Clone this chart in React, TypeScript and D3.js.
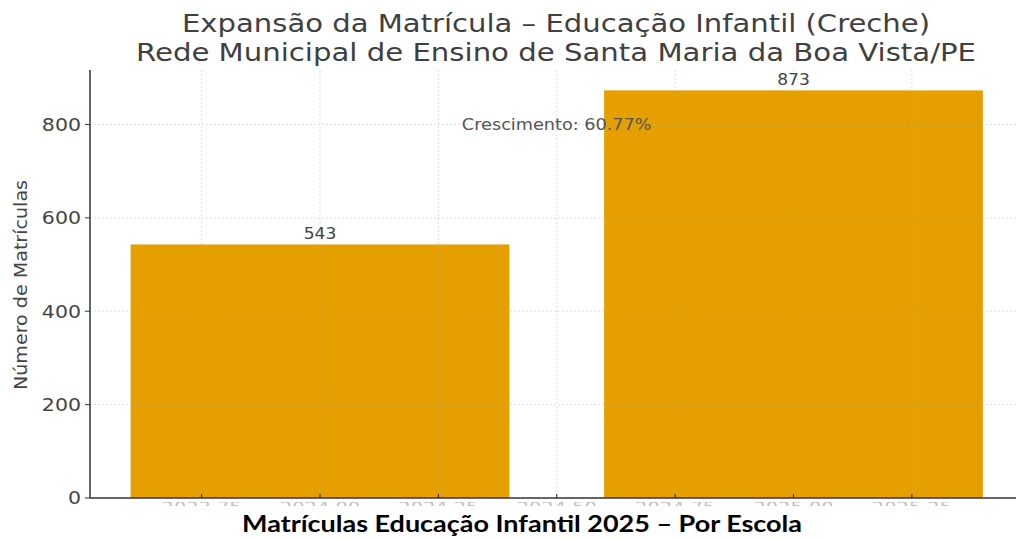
import React, { useEffect, useRef } from 'react';
import * as d3 from 'd3';

// Chart data
const years = [2024, 2025];
const enrollments = [543, 873];
const yTicks = [0, 200, 400, 600, 800];
const xTicks = [2023.75, 2024, 2024.25, 2024.5, 2024.75, 2025, 2025.25];
const titleLines = [
  'Expansão da Matrícula – Educação Infantil (Creche)',
  'Rede Municipal de Ensino de Santa Maria da Boa Vista/PE',
];
const yLabel = 'Número de Matrículas';
const caption = 'Matrículas Educação Infantil 2025 – Por Escola';

const WIDTH = 1016;
const HEIGHT = 539;
// the source screenshot is stretched sideways a little
const STRETCH = 1.14;

const App = () => {
  const svgRef = useRef<SVGSVGElement>(null);

  useEffect(() => {
    const svg = d3.select(svgRef.current);
    svg.selectAll('*').remove();

    const left = 90;
    const bottom = 498;
    const top = 70;

    // matplotlib-style margins: bars are 0.8 wide, 5% padding
    const xScale = d3.scaleLinear().domain([2023.51, 2025.49]).range([88, 1025.5]);
    const yScale = d3.scaleLinear().domain([0, 873 * 1.05]).range([bottom, top]);

    const stretched = (x: number, y: number) =>
      svg.append('g').attr('transform', `translate(${x},${y}) scale(${STRETCH},1)`);

    const defs = svg.append('defs');
    defs.append('clipPath').attr('id', 'tickclip')
      .append('rect').attr('x', 0).attr('y', bottom + 4).attr('width', WIDTH).attr('height', 4);

    // Bars
    svg.selectAll('.bar')
      .data(years)
      .enter()
      .append('rect')
      .attr('class', 'bar')
      .attr('x', d => xScale(d - 0.4))
      .attr('width', xScale(0.8) - xScale(0))
      .attr('y', (d, i) => yScale(enrollments[i]))
      .attr('height', (d, i) => yScale(0) - yScale(enrollments[i]))
      .attr('fill', '#E5A000');

    // Grid (drawn over bars, faint)
    const grid = svg.append('g').attr('stroke', '#b0b0b0').attr('stroke-width', 1)
      .attr('stroke-dasharray', '2,2').attr('opacity', 0.4);
    yTicks.filter(t => t > 0).forEach(t => {
      grid.append('line').attr('x1', left).attr('x2', WIDTH)
        .attr('y1', yScale(t)).attr('y2', yScale(t));
    });
    xTicks.forEach(t => {
      grid.append('line').attr('x1', xScale(t)).attr('x2', xScale(t))
        .attr('y1', top).attr('y2', bottom);
    });

    // y ticks
    yTicks.forEach(t => {
      svg.append('line').attr('x1', left - 5).attr('x2', left)
        .attr('y1', yScale(t)).attr('y2', yScale(t)).attr('stroke', '#333');
      stretched(left - 9, yScale(t)).append('text')
        .attr('dy', '0.36em')
        .attr('text-anchor', 'end')
        .attr('font-family', 'DejaVu Sans')
        .attr('font-size', 18)
        .attr('fill', '#444')
        .text(t);
    });

    // spines
    svg.append('line').attr('x1', left).attr('x2', left).attr('y1', top).attr('y2', bottom)
      .attr('stroke', '#333').attr('stroke-width', 1.5);
    svg.append('line').attr('x1', left).attr('x2', WIDTH).attr('y1', bottom).attr('y2', bottom)
      .attr('stroke', '#333').attr('stroke-width', 1.5);

    // x ticks (inward)
    svg.append('g').selectAll('line')
      .data(xTicks).enter().append('line')
      .attr('x1', d => xScale(d)).attr('x2', d => xScale(d))
      .attr('y1', bottom - 4).attr('y2', bottom)
      .attr('stroke', '#222');

    // x tick labels, cut off by the screenshot crop
    const xl = svg.append('g').attr('clip-path', 'url(#tickclip)');
    xTicks.forEach(t => {
      xl.append('text')
        .attr('transform', `translate(${xScale(t)},${bottom + 16}) scale(${STRETCH},1)`)
        .attr('text-anchor', 'middle')
        .attr('font-family', 'DejaVu Sans')
        .attr('font-size', 17)
        .attr('fill', '#999')
        .attr('opacity', 0.6)
        .text(t.toFixed(2));
    });

    // Value labels
    years.forEach((d, i) => {
      stretched(xScale(d), yScale(enrollments[i]) - 5).append('text')
        .attr('text-anchor', 'middle')
        .attr('font-family', 'DejaVu Sans')
        .attr('font-size', 15)
        .attr('fill', '#444')
        .text(enrollments[i]);
    });

    // Growth annotation
    const growth = ((enrollments[1] - enrollments[0]) / enrollments[0]) * 100;
    stretched(xScale(2024.5), yScale(800)).append('text')
      .attr('dy', '0.35em')
      .attr('text-anchor', 'middle')
      .attr('font-family', 'DejaVu Sans')
      .attr('font-size', 15.5)
      .attr('fill', '#555')
      .text(`Crescimento: ${growth.toFixed(2)}%`);

    // Title
    const titleWidths = [748, 840];
    titleLines.forEach((line, i) => {
      svg.append('text')
        .attr('x', 556)
        .attr('y', 32 + i * 29)
        .attr('text-anchor', 'middle')
        .attr('font-family', 'DejaVu Sans')
        .attr('font-size', 24)
        .attr('fill', '#404040')
        .attr('textLength', titleWidths[i])
        .attr('lengthAdjust', 'spacingAndGlyphs')
        .text(line);
    });

    // Y label
    svg.append('text')
      .attr('transform', `translate(27,285) rotate(-90)`)
      .attr('text-anchor', 'middle')
      .attr('font-family', 'DejaVu Sans')
      .attr('font-size', 17)
      .attr('fill', '#444')
      .attr('textLength', 210)
      .attr('lengthAdjust', 'spacingAndGlyphs')
      .text(yLabel);

    // Caption strip below the cropped chart
    svg.append('rect').attr('x', 0).attr('y', 507).attr('width', WIDTH).attr('height', HEIGHT - 507)
      .attr('fill', '#fff');
    svg.append('text')
      .attr('x', 522)
      .attr('y', 532)
      .attr('text-anchor', 'middle')
      .attr('font-family', 'Lato')
      .attr('font-weight', 'bold')
      .attr('font-size', 23.5)
      .attr('fill', '#000')
      .attr('textLength', 560)
      .attr('lengthAdjust', 'spacingAndGlyphs')
      .text(caption);
  }, []);

  return (
    <svg
      ref={svgRef}
      width={WIDTH}
      height={HEIGHT}
      style={{ position: 'absolute', left: 0, top: 0, background: '#fff' }}
    />
  );
};

export default App;
